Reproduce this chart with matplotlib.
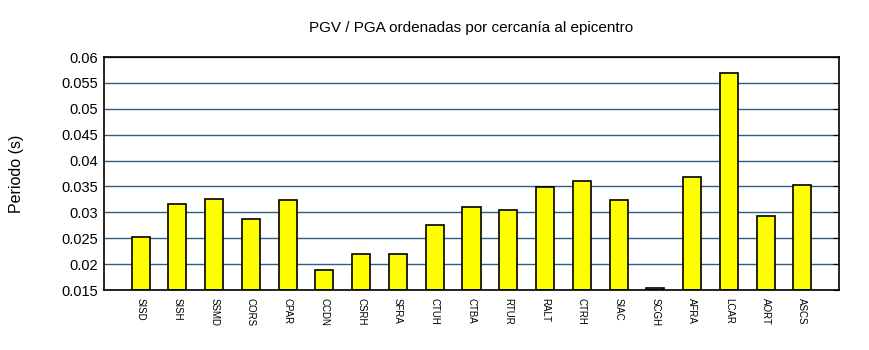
import matplotlib
matplotlib.use("Agg")
import matplotlib.pyplot as plt
import numpy as np

plt.rcParams['font.family'] = ['Liberation Sans', 'DejaVu Sans']

estaciones = ["SISD", "SISH", "SSMD", "CORS", "CPAR", "CCDN", "CSRH", "SFRA",
              "CTUH", "CTBA", "RTUR", "RALT", "CTRH", "SIAC", "SCGH", "AFRA",
              "LCAR", "AORT", "ASCS"]
periodo = [0.0253, 0.0317, 0.0325, 0.0287, 0.0323, 0.0188, 0.0220, 0.0220,
           0.0275, 0.0310, 0.0304, 0.0349, 0.0360, 0.0323, 0.0154, 0.0368,
           0.0569, 0.0293, 0.0352]
yticks = [0.015, 0.02, 0.025, 0.03, 0.035, 0.04, 0.045, 0.05, 0.055, 0.06]
yticklabels = ["0.015", "0.02", "0.025", "0.03", "0.035", "0.04", "0.045",
               "0.05", "0.055", "0.06"]

base = 0.015

fig = plt.figure(figsize=(8.7, 3.5), dpi=100)
ax = fig.add_axes([0.1195, 0.1714, 0.8449, 0.6657])

x = np.arange(1, len(estaciones) + 1)
# bars rise from the axis floor
ax.bar(x, np.array(periodo) - base, width=0.49, bottom=base,
       color="#ffff00", edgecolor="black", linewidth=1.2, zorder=3)

ax.set_xlim(0, len(estaciones) + 1)
ax.set_ylim(base, 0.06)
ax.set_yticks(yticks)
ax.set_yticklabels(yticklabels, fontsize=10.5)
ax.set_xticks(x)
ax.set_xticklabels(estaciones, rotation=270, fontsize=7)
ax.tick_params(axis='x', length=0, pad=6)
ax.tick_params(axis='y', which='both', left=False, right=True, direction='in',
               length=4, pad=4)
ax.yaxis.grid(True, color="#2e5f86", linewidth=1, zorder=0)
for s in ax.spines.values():
    s.set_linewidth(1.2)
    s.set_zorder(4)

ax.set_ylabel("Periodo (s)", fontsize=11.5, labelpad=27)
ax.set_title("PGV / PGA ordenadas por cercanía al epicentro", fontsize=11, pad=18)

fig.savefig("out.png", dpi=100)
